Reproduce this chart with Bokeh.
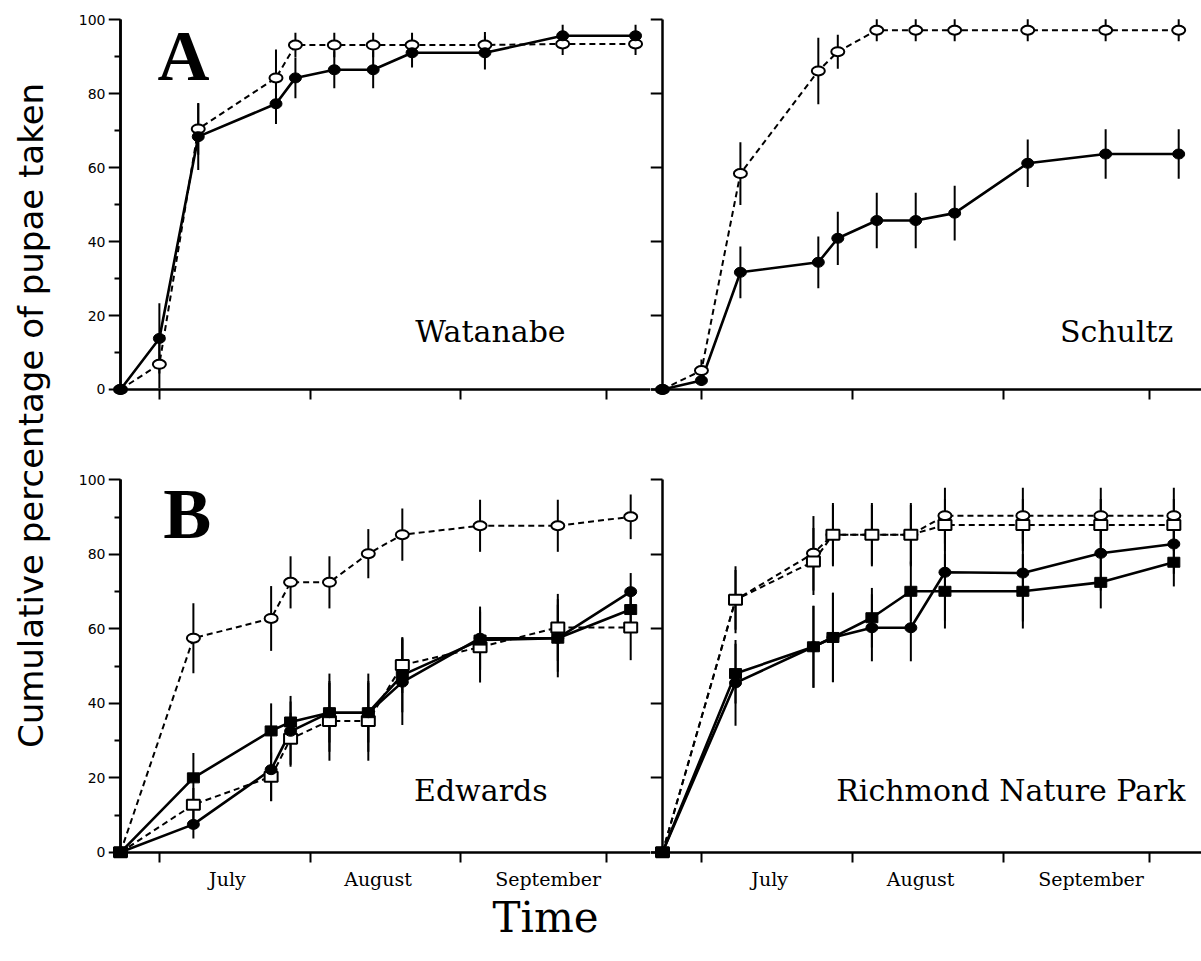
import math
from bokeh.plotting import figure
from bokeh.models import LinearAxis, FixedTicker, Range1d
from bokeh.layouts import row, column
from bokeh.embed import file_html
from bokeh.resources import INLINE
from bokeh.core.properties import value

# ---------------- data (x = day counted from 1 June, y = cumulative % of pupae taken) ----------------
top_days = [22, 30, 38, 54, 58, 66, 74, 82, 97, 113, 128]
watanabe_closed = [0, 13.8, 68.4, 77.3, 84.3, 86.5, 86.5, 91.1, 91.1, 95.7, 95.7]
watanabe_closed_err = [0, 9.5, 9.0, 5.5, 5.5, 5.0, 5.0, 4.0, 4.5, 3.0, 3.0]
watanabe_open = [0, 6.8, 70.5, 84.3, 93.2, 93.2, 93.2, 93.2, 93.2, 93.5, 93.5]
watanabe_open_err = [0, 6.5, 7.0, 7.7, 3.3, 3.3, 3.3, 3.3, 3.5, 3.0, 3.0]

schultz_closed = [0, 2.4, 31.7, 34.4, 40.9, 45.7, 45.7, 47.7, 61.2, 63.7, 63.7]
schultz_closed_err = [0, 1.5, 7.0, 7.0, 7.2, 7.5, 7.5, 7.4, 6.4, 6.7, 6.7]
schultz_open = [0, 5.1, 58.4, 86.2, 91.4, 97.2, 97.2, 97.2, 97.2, 97.2, 97.2]
schultz_open_err = [0, 3.0, 8.5, 9.0, 4.6, 3.0, 3.0, 3.0, 3.0, 3.0, 3.0]

bottom_days = [22, 37, 53, 57, 65, 73, 80, 96, 112, 127]
edwards_open_circle = [0, 57.5, 62.8, 72.5, 72.5, 80.2, 85.3, 87.7, 87.7, 90.1]
edwards_open_circle_err = [0, 9.4, 8.7, 7.0, 7.0, 6.6, 7.0, 7.0, 7.0, 6.0]
edwards_closed_square = [0, 20.0, 32.6, 35.0, 37.5, 37.5, 47.6, 57.0, 57.5, 65.2]
edwards_closed_square_err = [0, 6.7, 7.4, 5.5, 8.0, 8.0, 10.0, 8.0, 9.0, 6.0]
edwards_closed_circle = [0, 7.5, 22.2, 32.5, 37.5, 37.5, 45.7, 57.5, 57.5, 70.0]
edwards_closed_circle_err = [0, 3.8, 8.5, 9.5, 10.5, 10.5, 11.5, 8.5, 10.5, 5.0]
edwards_open_square = [0, 12.8, 20.3, 30.5, 35.3, 35.3, 50.3, 55.1, 60.4, 60.4]
edwards_open_square_err = [0, 4.5, 6.5, 7.0, 10.7, 10.7, 7.5, 9.5, 9.0, 8.8]

richmond_open_circle = [0, 67.8, 80.3, 85.3, 85.3, 85.3, 90.4, 90.4, 90.4, 90.4]
richmond_open_circle_err = [0, 9.0, 10.0, 8.5, 8.5, 8.5, 7.5, 7.5, 7.5, 7.5]
richmond_open_square = [0, 67.8, 78.1, 85.3, 85.3, 85.3, 87.9, 87.9, 87.9, 87.9]
richmond_open_square_err = [0, 8.0, 9.0, 8.0, 8.0, 8.0, 7.0, 7.0, 7.0, 7.0]
richmond_closed_circle = [0, 45.5, 55.2, 57.7, 60.3, 60.3, 75.2, 75.0, 80.3, 82.8]
richmond_closed_circle_err = [0, 11.5, 11.0, 12.0, 9.0, 9.0, 13.0, 13.0, 10.0, 8.0]
richmond_closed_square = [0, 48.0, 55.2, 57.7, 63.0, 70.1, 70.1, 70.1, 72.5, 77.9]
richmond_closed_square_err = [0, 8.0, 11.0, 12.0, 8.0, 8.0, 10.0, 10.0, 7.0, 6.5]

month_bounds = [30, 61, 92, 122]          # 1 Jul, 1 Aug, 1 Sep, 1 Oct
month_label_days = [44, 75, 110]
month_names = ["July", "August", "September"]
y_major = [0, 20, 40, 60, 80, 100]
y_minor = [10, 30, 50, 70, 90]

SERIF = "DejaVu Serif"
SANS = "DejaVu Sans"
Y_START, Y_END = -3, 102


def clean(p):
    p.outline_line_color = None
    p.background_fill_color = "white"
    p.border_fill_color = "white"
    p.xgrid.visible = False
    p.ygrid.visible = False
    for g in p.center:
        if g.__class__.__name__ == "Grid":
            g.visible = False


def make_fig(width, height, x_start, px_per_day, border_left, border_bottom):
    x_end = x_start + (width - border_left) / px_per_day
    p = figure(width=width, height=height,
               x_range=Range1d(x_start, x_end), y_range=Range1d(Y_START, Y_END),
               x_axis_location=None, y_axis_location=None,
               toolbar_location=None, output_backend="svg",
               min_border_left=border_left, min_border_right=0,
               min_border_top=12, min_border_bottom=border_bottom)
    clean(p)
    return p


def tick_axis(tick_list, tick_len, **kw):
    # axis line + tick marks only (ticks drawn as "minor" ticks so no label texts exist)
    a = LinearAxis(ticker=FixedTicker(ticks=[], minor_ticks=tick_list), **kw)
    a.axis_line_color = "black"
    a.axis_line_width = 2.5
    a.major_tick_out = 0
    a.major_tick_in = 0
    a.minor_tick_line_color = "black"
    a.minor_tick_line_width = 2
    a.minor_tick_out = tick_len
    a.minor_tick_in = 0
    return a


def label_axis(ticks, standoff, font, size, overrides=None):
    a = LinearAxis(ticker=FixedTicker(ticks=ticks, minor_ticks=[]))
    if overrides:
        a.major_label_overrides = overrides
    a.axis_line_color = None
    a.major_tick_out = 0
    a.major_tick_in = 0
    a.minor_tick_out = 0
    a.minor_tick_in = 0
    a.major_label_standoff = standoff
    a.major_label_text_font = font
    a.major_label_text_font_size = size
    a.major_label_text_color = "black"
    return a


def add_axes(p, origin_day, bounded_x, minor, y_labels, month_labels):
    xa = tick_axis(month_bounds, 10, fixed_location=0)
    if bounded_x:
        xa.bounds = (origin_day, p.x_range.end)
    p.add_layout(xa, "below")
    p.add_layout(tick_axis(y_major, 12, fixed_location=origin_day, bounds=(0, 100)), "left")
    if minor:
        p.add_layout(tick_axis(y_minor, 6, fixed_location=origin_day, bounds=(0, 100)), "left")
    if y_labels:
        p.add_layout(label_axis(y_major, 3, SANS, "14px"), "left")
    if month_labels:
        p.add_layout(label_axis(month_label_days, 4, SERIF, "19px",
                                {d: n for d, n in zip(month_label_days, month_names)}), "below")


def draw(p, days, series):
    for vals, errs, marker, filled in series:
        if filled:
            p.line(days, vals, line_color="black", line_width=2.6)
        else:
            p.line(days, vals, line_color="black", line_width=2.0, line_dash="6 4")
    for vals, errs, marker, filled in series:
        lo = [v - e for v, e in zip(vals, errs)]
        hi = [v + e for v, e in zip(vals, errs)]
        p.segment(days, lo, days, hi, line_color="black", line_width=2)
    for vals, errs, marker, filled in series:
        fill = "black" if filled else "white"
        if marker == "circle":
            p.ellipse(days, vals, width=12 if filled else 13, height=10 if filled else 9,
                      width_units="screen", height_units="screen",
                      fill_color=fill, line_color="black", line_width=1 if filled else 2)
        else:
            p.rect(days, vals, width=12 if filled else 13, height=10,
                   width_units="screen", height_units="screen",
                   fill_color=fill, line_color="black", line_width=1 if filled else 2)


def site_label(p, x, y, txt):
    p.text(x=[x], y=[y], text=[txt], text_font=value(SERIF), text_font_size="30px",
           text_align="right", text_baseline="alphabetic", text_color="black")


def panel_letter(p, x, y, txt):
    p.text(x=[x], y=[y], text=[txt], text_font=value("Liberation Serif"), text_font_style="bold",
           text_font_size="72px", text_align="left", text_baseline="alphabetic", text_color="black")


LEFT_START, LEFT_PPD = 19.53, 4.859
RIGHT_START, RIGHT_PPD = 19.54, 4.87
BOTTOM_H, BOTTOM_BORDER = 432, 27

# ---- A: Watanabe ----
p1 = make_fig(590, 460, LEFT_START, LEFT_PPD, 48, 60)
add_axes(p1, top_days[0], True, True, True, False)
draw(p1, top_days, [(watanabe_open, watanabe_open_err, "circle", False),
                    (watanabe_closed, watanabe_closed_err, "circle", True)])
site_label(p1, 113.6, 15.7, "Watanabe")
panel_letter(p1, 29.6, 90.1, "A")

# ---- A: Schultz ----
p2 = make_fig(551, 460, RIGHT_START, RIGHT_PPD, 0, 60)
add_axes(p2, top_days[0], False, False, False, False)
draw(p2, top_days, [(schultz_open, schultz_open_err, "circle", False),
                    (schultz_closed, schultz_closed_err, "circle", True)])
site_label(p2, 126.9, 15.7, "Schultz")

# ---- B: Edwards ----
p3 = make_fig(590, BOTTOM_H, LEFT_START, LEFT_PPD, 48, BOTTOM_BORDER)
add_axes(p3, bottom_days[0], True, True, True, True)
draw(p3, bottom_days, [(edwards_open_circle, edwards_open_circle_err, "circle", False),
                       (edwards_open_square, edwards_open_square_err, "square", False),
                       (edwards_closed_circle, edwards_closed_circle_err, "circle", True),
                       (edwards_closed_square, edwards_closed_square_err, "square", True)])
site_label(p3, 109.9, 16.7, "Edwards")
panel_letter(p3, 30.8, 90.8, "B")

# ---- B: Richmond Nature Park ----
p4 = make_fig(551, BOTTOM_H, RIGHT_START, RIGHT_PPD, 0, BOTTOM_BORDER)
add_axes(p4, bottom_days[0], False, False, False, True)
draw(p4, bottom_days, [(richmond_open_circle, richmond_open_circle_err, "circle", False),
                       (richmond_open_square, richmond_open_square_err, "square", False),
                       (richmond_closed_circle, richmond_closed_circle_err, "circle", True),
                       (richmond_closed_square, richmond_closed_square_err, "square", True)])
site_label(p4, 129.4, 16.7, "Richmond Nature Park")

# ---- shared x title ----
T_H = 961 - 460 - BOTTOM_H
tfig = figure(width=1141, height=T_H, x_range=Range1d(0, 1141), y_range=Range1d(0, T_H),
              x_axis_location=None, y_axis_location=None, toolbar_location=None,
              output_backend="svg", min_border=0)
clean(tfig)
tfig.text(x=[485], y=[T_H - 25], text=["Time"], text_align="center", text_baseline="alphabetic",
          text_font=value(SERIF), text_font_size="42px", text_color="black")

# ---- shared y title ----
lab = figure(width=60, height=961, x_range=Range1d(0, 60), y_range=Range1d(0, 961),
             x_axis_location=None, y_axis_location=None, toolbar_location=None,
             output_backend="svg", min_border=0)
clean(lab)
lab.text(x=[30], y=[546], text=["Cumulative percentage of pupae taken"], angle=math.pi / 2,
         text_align="center", text_baseline="middle", text_font=value(SANS),
         text_font_size="34px", text_color="black")

layout = row(lab, column(row(p1, p2), row(p3, p4), tfig))
open("out.html", "w").write(file_html(layout, INLINE))
